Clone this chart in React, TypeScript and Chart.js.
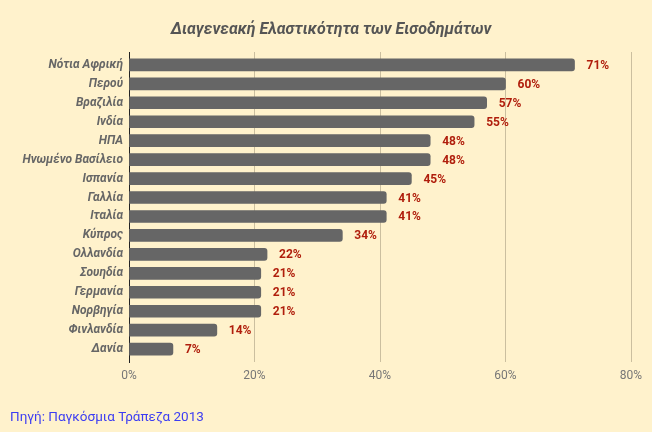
import { Chart, registerables } from "chart.js";
import { useEffect, useRef } from "react";

Chart.register(...registerables);

const countries = [
  "Νότια Αφρική",
  "Περού",
  "Βραζιλία",
  "Ινδία",
  "ΗΠΑ",
  "Ηνωμένο Βασίλειο",
  "Ισπανία",
  "Γαλλία",
  "Ιταλία",
  "Κύπρος",
  "Ολλανδία",
  "Σουηδία",
  "Γερμανία",
  "Νορβηγία",
  "Φινλανδία",
  "Δανία",
];
const elasticity = [71, 60, 57, 55, 48, 48, 45, 41, 41, 34, 22, 21, 21, 21, 14, 7];

const title = "Διαγενεακή Ελαστικότητα των Εισοδημάτων";
const source = "Πηγή: Παγκόσμια Τράπεζα 2013";

const BG = "#FFF2CC";
const FONT = "Roboto";

export default function App() {
  const chartRef = useRef<HTMLCanvasElement | null>(null);

  useEffect(() => {
    const ctx = chartRef.current?.getContext("2d");
    if (!ctx) return;

    // title, source note and value labels drawn straight on the canvas
    const extras = {
      id: "extras",
      afterDatasetsDraw(chart: Chart) {
        const c = chart.ctx;
        c.save();
        c.fillStyle = "#555555";
        c.font = `italic bold 16px ${FONT}`;
        c.textAlign = "center";
        c.textBaseline = "middle";
        c.fillText(title, 331, 30);

        c.fillStyle = "#3d3df2";
        c.font = `13.5px ${FONT}`;
        c.textAlign = "left";
        c.fillText(source, 10, 418);

        c.fillStyle = "#b01e0c";
        c.font = `bold 12px ${FONT}`;
        const meta = chart.getDatasetMeta(0);
        meta.data.forEach((bar, i) => {
          c.fillText(`${elasticity[i]}%`, bar.x + 12, bar.y + 1);
        });
        c.restore();
      },
    };

    // index axis is linear so the first/last bars sit a bit further from the ends
    const points = elasticity.map((v, i) => ({ x: v, y: i }));

    const chart = new Chart(ctx, {
      type: "bar",
      data: {
        datasets: [
          {
            data: points,
            backgroundColor: "#666666",
            borderRadius: 3,
            borderSkipped: "start",
            barThickness: 12,
          },
        ],
      },
      options: {
        indexAxis: "y",
        responsive: true,
        maintainAspectRatio: false,
        animation: false,
        layout: { padding: { top: 52, right: 21, bottom: 0, left: 0 } },
        plugins: {
          legend: { display: false },
          tooltip: { enabled: false },
        },
        scales: {
          x: {
            type: "linear",
            min: 0,
            max: 80,
            afterFit: (scale) => {
              scale.height = 70;
            },
            grid: { color: "#cbbf9f", drawTicks: false },
            border: { display: false },
            ticks: {
              stepSize: 20,
              padding: 7,
              color: "#777777",
              font: { family: FONT, size: 12 },
              callback: (value) => `${value}%`,
            },
          },
          y: {
            type: "linear",
            reverse: true,
            offset: false,
            min: -0.68,
            max: countries.length - 1 + 0.68,
            afterFit: (scale) => {
              scale.width = 129;
            },
            grid: { display: false, drawTicks: false, offset: false },
            border: { color: "#222222", width: 1 },
            ticks: {
              stepSize: 1,
              includeBounds: false,
              autoSkip: false,
              padding: 6,
              color: "#666666",
              font: { family: FONT, size: 12, style: "italic", weight: "bold" },
              callback: (value) => countries[value as number] ?? "",
            },
          },
        },
      },
      plugins: [extras],
    });

    return () => chart.destroy();
  }, []);

  return (
    <div
      style={{
        position: "fixed",
        left: 0,
        top: 0,
        width: 652,
        height: 432,
        background: BG,
      }}
    >
      <canvas ref={chartRef} />
    </div>
  );
}
